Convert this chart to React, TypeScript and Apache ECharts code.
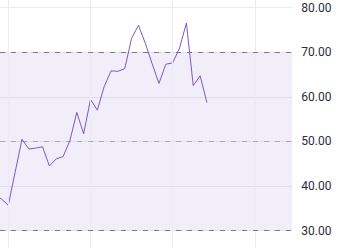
import React, { useEffect, useRef } from "react";
import * as echarts from "echarts";

const indices = [-2, -1, 0, 1, 2, 3, 4, 5, 6, 7, 8, 9, 10, 11, 12, 13, 14, 15, 16, 17, 18, 19, 20, 21, 22, 23, 24, 25, 26, 27, 28, 29];
const rsiValues = [37.8, 37.1, 35.7, 43.1, 50.5, 48.3, 48.5, 48.8, 44.5, 46.1, 46.6, 50.2, 56.5, 51.7, 59.4, 57.0, 62.3, 65.8, 65.7, 66.3, 73.1, 76.0, 72.0, 67.4, 63.0, 67.3, 67.6, 70.9, 76.5, 62.5, 64.7, 58.7];
const yTicks = [30, 40, 50, 60, 70, 80];
const verticalLines = [0, 12, 24, 36];
const bandLevels = { upper: 70, middle: 50, lower: 30 };

export default function App() {
  const ref = useRef<HTMLDivElement>(null);
  useEffect(() => {
    if (!ref.current) return;
    const chart = echarts.init(ref.current, undefined, { renderer: "svg" });
    const xMin = -1.21;
    const xMax = 41.46;
    chart.setOption({
      animation: false,
      grid: [
        { left: 0, right: 54.7, top: 7.5, bottom: 17.3 },
        { left: 0, right: 54.7, top: 0, bottom: 0 },
      ],
      xAxis: [
        { type: "value", gridIndex: 0, min: xMin, max: xMax, show: false },
        { type: "value", gridIndex: 1, min: xMin, max: xMax, show: false },
      ],
      yAxis: [
        {
          type: "value",
          gridIndex: 0,
          position: "right",
          min: yTicks[0],
          max: yTicks[yTicks.length - 1],
          interval: 10,
          axisLine: { show: false },
          axisTick: { show: false },
          axisLabel: {
            margin: 9,
            color: "#2a2e39",
            fontSize: 12,
            fontFamily: "Roboto",
            formatter: (v: number) => v.toFixed(2),
          },
          splitLine: { show: true, lineStyle: { color: "#ebebf0", width: 1 } },
        },
        { type: "value", gridIndex: 1, min: 0, max: 1, show: false },
      ],
      series: [
        {
          type: "line",
          xAxisIndex: 1,
          yAxisIndex: 1,
          data: [],
          silent: true,
          z: 1,
          markLine: {
            silent: true,
            symbol: ["none", "none"],
            label: { show: false },
            lineStyle: { color: "#ebebf0", type: "solid", width: 1 },
            data: verticalLines.map((x) => ({ xAxis: x })),
          },
        },
        {
          type: "line",
          xAxisIndex: 0,
          yAxisIndex: 0,
          data: indices.map((x, i) => [x, rsiValues[i]]),
          showSymbol: false,
          symbol: "none",
          clip: true,
          z: 3,
          lineStyle: { color: "#7e57c2", width: 1 },
          markArea: {
            silent: true,
            itemStyle: { color: "rgba(126,87,194,0.1)" },
            data: [[{ yAxis: bandLevels.lower }, { yAxis: bandLevels.upper }]],
          },
          markLine: {
            silent: true,
            symbol: ["none", "none"],
            label: { show: false },
            data: [
              { yAxis: bandLevels.upper, lineStyle: { color: "#787b86", type: [5, 6], width: 1 } },
              { yAxis: bandLevels.middle, lineStyle: { color: "rgba(120,123,134,0.55)", type: [5, 6], width: 1 } },
              { yAxis: bandLevels.lower, lineStyle: { color: "#787b86", type: [5, 6], width: 1 } },
            ],
          },
        },
      ],
    });
    return () => chart.dispose();
  }, []);
  return <div ref={ref} style={{ position: "fixed", left: 0, top: 0, width: 347, height: 248, background: "#fff" }} />;
}
